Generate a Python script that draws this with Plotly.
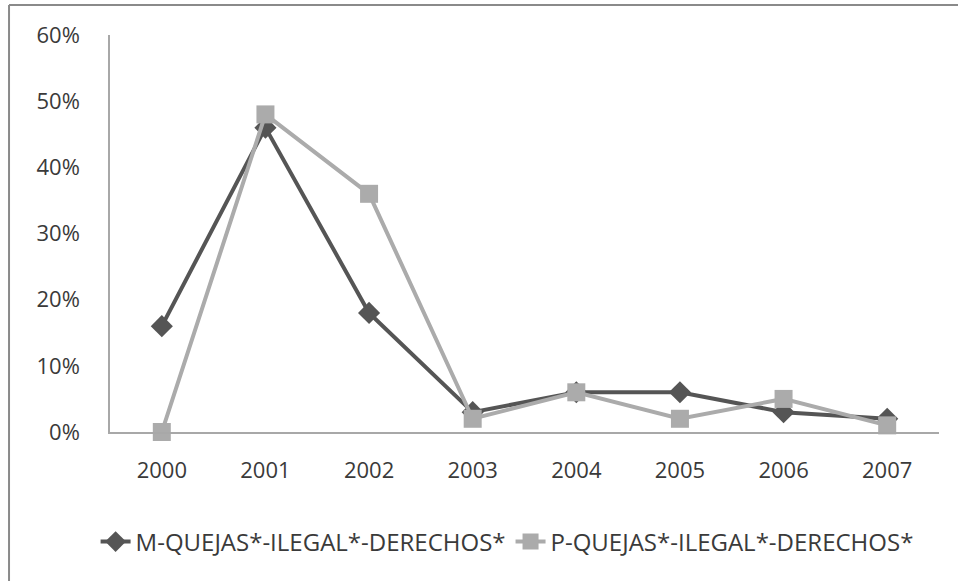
import plotly.graph_objects as go

years = ["2000", "2001", "2002", "2003", "2004", "2005", "2006", "2007"]
m_quejas = [0.16, 0.46, 0.18, 0.03, 0.06, 0.06, 0.03, 0.02]
p_quejas = [0.00, 0.48, 0.36, 0.02, 0.06, 0.02, 0.05, 0.01]
series_names = ["M-QUEJAS*-ILEGAL*-DERECHOS*", "P-QUEJAS*-ILEGAL*-DERECHOS*"]
y_ticks = [0, 0.1, 0.2, 0.3, 0.4, 0.5, 0.6]

font_family = "Open Sans"
text_color = "#3a3a3a"
font_size = 22

fig = go.Figure()
fig.add_trace(go.Scatter(
    x=years, y=m_quejas, name=series_names[0], mode="lines+markers",
    line=dict(color="#555555", width=4),
    marker=dict(symbol="diamond", size=17, color="#555555"),
    cliponaxis=False,
))
fig.add_trace(go.Scatter(
    x=years, y=p_quejas, name=series_names[1], mode="lines+markers",
    line=dict(color="#ababab", width=4),
    marker=dict(symbol="square", size=18, color="#ababab"),
    cliponaxis=False,
))

fig.update_layout(
    width=958, height=581,
    margin=dict(l=110, r=19, t=35, b=149),
    paper_bgcolor="white", plot_bgcolor="white",
    font=dict(family=font_family, size=font_size, color=text_color),
    showlegend=True,
    legend=dict(orientation="h", x=0.479, xanchor="center", y=-0.277, yanchor="middle",
                font=dict(size=24, color=text_color), tracegroupgap=0),
    xaxis=dict(type="category", range=[-0.5, 7.5], showgrid=False, zeroline=False,
               showline=True, linecolor="#a8a8a8", linewidth=1.5, ticks="",
               tickfont=dict(size=font_size, color=text_color), ticklabelstandoff=18),
    yaxis=dict(range=[0, 0.6], tickvals=y_ticks, tickformat=".0%", showgrid=False,
               zeroline=False, showline=True, linecolor="#a8a8a8", linewidth=1.5,
               ticks="", tickfont=dict(size=font_size, color=text_color), ticklabelstandoff=24),
)

# chart frame edges along the top and left
fig.add_shape(type="line", xref="paper", yref="paper", x0=-0.1218, x1=1.05, y0=1.0756, y1=1.0756,
              line=dict(color="#8a8a8a", width=2))
fig.add_shape(type="line", xref="paper", yref="paper", x0=-0.1218, x1=-0.1218, y0=1.0756, y1=-0.4,
              line=dict(color="#8a8a8a", width=2))

fig.write_html("out.html")
